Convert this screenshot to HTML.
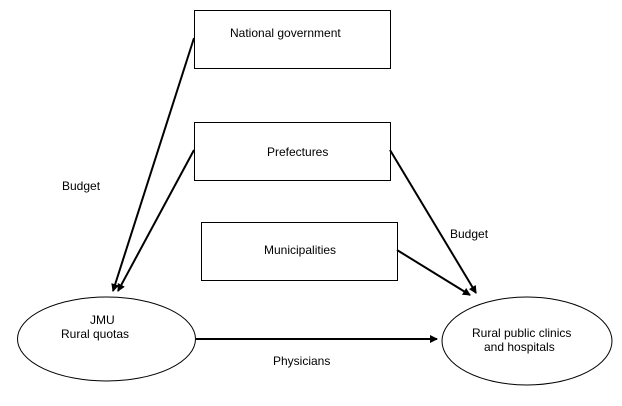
<!DOCTYPE html>
<html><head><style>
body{margin:0;background:#fff}
svg text{font-family:"Liberation Sans",sans-serif;font-size:12px;fill:#000}
</style></head><body>
<svg width="622" height="401" viewBox="0 0 622 401" xmlns="http://www.w3.org/2000/svg">
<defs><marker id="a" markerWidth="8" markerHeight="8" refX="7" refY="4" orient="auto" markerUnits="userSpaceOnUse"><path d="M0,0 L8,4 L0,8 z" fill="#000"/></marker></defs>
<g fill="#fff" stroke="#000" stroke-width="1">
<rect x="194.5" y="10.5" width="196" height="58"/>
<rect x="194.5" y="122.5" width="196" height="58"/>
<rect x="201.5" y="222.5" width="196" height="58"/>
<ellipse cx="106.5" cy="339" rx="89" ry="42"/>
<ellipse cx="527" cy="341" rx="85" ry="44"/>
</g>
<g stroke="#000" stroke-width="2" marker-end="url(#a)">
<line x1="194" y1="38" x2="113" y2="291"/>
<line x1="194" y1="150" x2="118" y2="291"/>
<line x1="390" y1="150" x2="476" y2="293"/>
<line x1="397" y1="250" x2="470" y2="295"/>
<line x1="196" y1="339" x2="437" y2="339"/>
</g>
<text x="230" y="37">National government</text>
<text x="267" y="156">Prefectures</text>
<text x="264" y="254">Municipalities</text>
<text x="62" y="190">Budget</text>
<text x="450" y="238">Budget</text>
<text x="90" y="324">JMU</text>
<text x="61" y="338">Rural quotas</text>
<text x="472" y="337">Rural public clinics</text>
<text x="484" y="351">and hospitals</text>
<text x="273" y="365">Physicians</text>
</svg>
</body></html>
